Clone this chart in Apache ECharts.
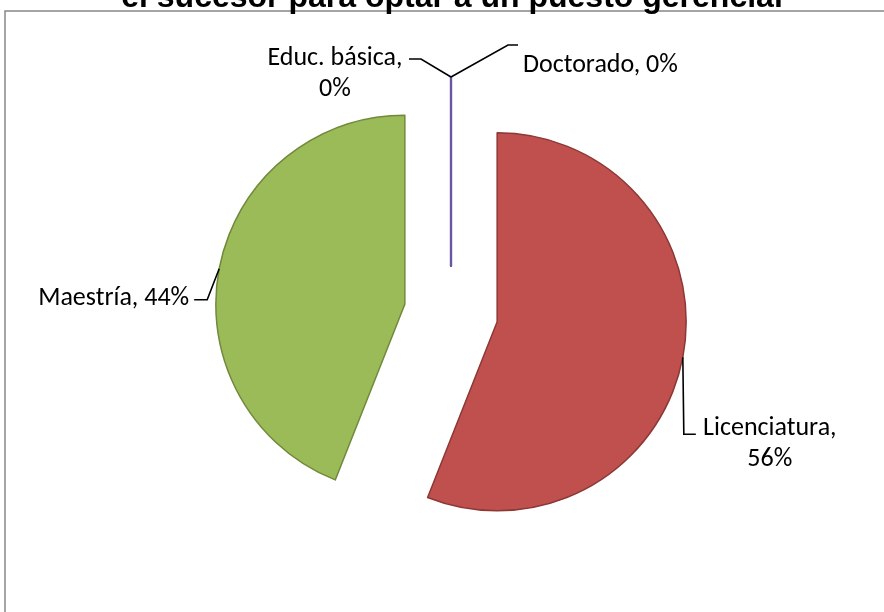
<!DOCTYPE html>
<html><head><meta charset="utf-8">
<script src="https://cdn.jsdelivr.net/npm/echarts@6/dist/echarts.min.js"></script>
<style>html,body{margin:0;padding:0;background:#fff}#c{width:884px;height:612px}</style>
</head><body><div id="c"></div>
<script>
// ---- data ----
const categories = ['Educ. básica', 'Licenciatura', 'Maestría', 'Doctorado'];
const values = [0, 56, 44, 0];
const titleText = 'el sucesor para optar a un puesto gerencial';
const labelWrap = [true, true, false, false];

// ---- styles / layout ----
const colors = ['#4F81BD', '#C0504D', '#9BBB59', '#8064A2'];
const borders = ['#6A55A0', '#8C3836', '#71893A', '#6A55A0'];
const CX = 451, CY = 313, R = 189, EXPLODE = 47;
// leader line: elbow and end offsets relative to the slice anchor; label placed relative to the end
const leader = [
  { elbow: [-30, -18], end: [-42, -18], lx: -74, ly: 15, align: 'center' },
  { elbow: [1, 77], end: [13, 77], lx: 74, ly: 10, align: 'center' },
  { elbow: [-12, 31], end: [-25, 31], lx: -5, ly: -1, align: 'right' },
  { elbow: [57, -32], end: [67, -32], lx: 5, ly: 20, align: 'left' }
];
const labelFont = '26px Carlito, Lato, sans-serif';

const total = values.reduce((a, b) => a + b, 0);
const graphics = [
  { type: 'rect', z: 0, shape: { x: 5, y: 11, width: 1000, height: 1000 },
    style: { fill: 'none', stroke: '#878787', lineWidth: 1.5 } },
  { type: 'text', z: 10, x: 452, y: 14,
    style: { text: titleText, font: 'bold 32px "Liberation Sans", Arial', fill: '#000',
             align: 'center', verticalAlign: 'bottom' } }
];
let cum = 0;
values.forEach((v, i) => {
  const mid = (cum + v / 2) / total * 2 * Math.PI;
  cum += v;
  const dx = Math.sin(mid), dy = -Math.cos(mid);
  const ax = CX + dx * (R + EXPLODE), ay = CY + dy * (R + EXPLODE);
  const L = leader[i];
  const ex = ax + L.end[0], ey = ay + L.end[1];
  graphics.push({
    type: 'polyline', z: 20,
    shape: { points: [[ax, ay], [ax + L.elbow[0], ay + L.elbow[1]], [ex, ey]] },
    style: { stroke: '#000', lineWidth: 1.6, fill: 'none' }
  });
  const pct = Math.round(v / total * 100);
  graphics.push({
    type: 'text', z: 20, x: ex + L.lx, y: ey + L.ly,
    style: { text: categories[i] + ',' + (labelWrap[i] ? '\n' : ' ') + pct + '%',
             font: labelFont, lineHeight: 31, fill: '#000', align: L.align, verticalAlign: 'middle' }
  });
});

const chart = echarts.init(document.getElementById('c'), null, { renderer: 'canvas' });
chart.setOption({
  animation: false,
  backgroundColor: '#ffffff',
  graphic: graphics,
  series: [{
    type: 'pie',
    center: [CX, CY],
    radius: R,
    startAngle: 90,
    clockwise: true,
    selectedMode: 'multiple',
    selectedOffset: EXPLODE,
    emphasis: { disabled: true },
    label: { show: false },
    labelLine: { show: false },
    data: categories.map((c, i) => ({
      name: c, value: values[i], selected: true,
      itemStyle: { color: colors[i], borderColor: borders[i], borderWidth: values[i] ? 1.5 : 2.2 },
      select: { itemStyle: { color: colors[i], borderColor: borders[i], borderWidth: values[i] ? 1.5 : 2.2 } }
    }))
  }]
});
</script></body></html>
